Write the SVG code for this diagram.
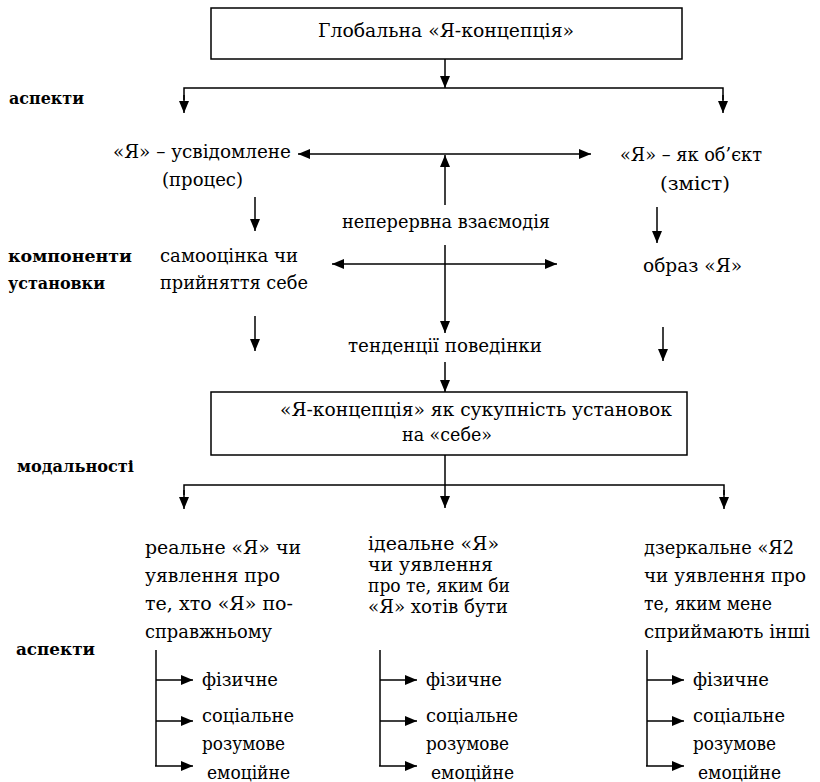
<svg xmlns="http://www.w3.org/2000/svg" width="820" height="782" viewBox="0 0 820 782" font-family="DejaVu Serif, serif">
  <defs>
    <marker id="ah" markerUnits="userSpaceOnUse" markerWidth="12" markerHeight="10" refX="12" refY="5" orient="auto-start-reverse">
      <path d="M0,0 L12,5 L0,10 z" fill="#000"/>
    </marker>
  </defs>
  <style>
    text { font-family: "DejaVu Serif", serif; font-size: 19px; fill: #000; }
    .lbl { font-weight: bold; font-size: 16px; }
    .box { fill: #fff; stroke: #000; stroke-width: 1.5; }
    .ln { fill: none; stroke: #000; stroke-width: 1.5; }
    .ar { fill: none; stroke: #000; stroke-width: 1.5; marker-end: url(#ah); }
    .dar { fill: none; stroke: #000; stroke-width: 1.5; marker-start: url(#ah); marker-end: url(#ah); }
  </style>
  <rect width="820" height="782" fill="#fff"/>

  <!-- level labels on the left -->
  <g id="labels">
    <text class="lbl" x="9" y="104" textLength="75" lengthAdjust="spacingAndGlyphs">аспекти</text>
    <text class="lbl" x="8" y="262" textLength="124" lengthAdjust="spacingAndGlyphs">компоненти</text>
    <text class="lbl" x="8" y="289" textLength="97" lengthAdjust="spacingAndGlyphs">установки</text>
    <text class="lbl" x="17" y="472" textLength="117" lengthAdjust="spacingAndGlyphs">модальності</text>
    <text class="lbl" x="16" y="655" textLength="79" lengthAdjust="spacingAndGlyphs">аспекти</text>
  </g>

  <g id="global">
    <rect class="box" x="211" y="8" width="471" height="51"/>
    <text x="318" y="37" textLength="256" lengthAdjust="spacingAndGlyphs">Глобальна «Я-концепція»</text>
  </g>

  <g id="conscious">
    <text x="113" y="158" textLength="178" lengthAdjust="spacingAndGlyphs">«Я» – усвідомлене</text>
    <text x="162" y="186" textLength="81" lengthAdjust="spacingAndGlyphs">(процес)</text>
  </g>

  <g id="object">
    <text x="620" y="161" textLength="142" lengthAdjust="spacingAndGlyphs">«Я» – як об’єкт</text>
    <text x="660" y="190" textLength="70" lengthAdjust="spacingAndGlyphs">(зміст)</text>
  </g>

  <g id="interaction">
    <text x="342" y="228" textLength="208" lengthAdjust="spacingAndGlyphs">неперервна взаємодія</text>
  </g>

  <g id="selfesteem">
    <text x="160" y="262" textLength="138" lengthAdjust="spacingAndGlyphs">самооцінка чи</text>
    <text x="160" y="289" textLength="148" lengthAdjust="spacingAndGlyphs">прийняття себе</text>
  </g>

  <g id="selfimage">
    <text x="643" y="272" textLength="99" lengthAdjust="spacingAndGlyphs">образ «Я»</text>
  </g>

  <g id="behaviour">
    <text x="348" y="352" textLength="194" lengthAdjust="spacingAndGlyphs">тенденції поведінки</text>
  </g>

  <g id="attitudes">
    <rect class="box" x="211" y="392" width="476" height="63"/>
    <text x="280" y="416" textLength="392" lengthAdjust="spacingAndGlyphs">«Я-концепція» як сукупність установок</text>
    <text x="402" y="441" textLength="90" lengthAdjust="spacingAndGlyphs">на «себе»</text>
  </g>

  <g id="real">
    <text x="145" y="554" textLength="156" lengthAdjust="spacingAndGlyphs">реальне «Я» чи</text>
    <text x="145" y="582" textLength="135" lengthAdjust="spacingAndGlyphs">уявлення про</text>
    <text x="145" y="610" textLength="148" lengthAdjust="spacingAndGlyphs">те, хто «Я» по-</text>
    <text x="145" y="638" textLength="127" lengthAdjust="spacingAndGlyphs">справжньому</text>
  </g>

  <g id="ideal">
    <text x="368" y="550" textLength="131" lengthAdjust="spacingAndGlyphs">ідеальне «Я»</text>
    <text x="368" y="571" textLength="125" lengthAdjust="spacingAndGlyphs">чи уявлення</text>
    <text x="368" y="592" textLength="142" lengthAdjust="spacingAndGlyphs">про те, яким би</text>
    <text x="368" y="613" textLength="140" lengthAdjust="spacingAndGlyphs">«Я» хотів бути</text>
  </g>

  <g id="mirror">
    <text x="644" y="554" textLength="150" lengthAdjust="spacingAndGlyphs">дзеркальне «Я2</text>
    <text x="644" y="582" textLength="162" lengthAdjust="spacingAndGlyphs">чи уявлення про</text>
    <text x="644" y="610" textLength="128" lengthAdjust="spacingAndGlyphs">те, яким мене</text>
    <text x="644" y="638" textLength="166" lengthAdjust="spacingAndGlyphs">сприймають інші</text>
  </g>

  <g id="real-aspects">
    <text x="202" y="686" textLength="76" lengthAdjust="spacingAndGlyphs">фізичне</text>
    <text x="202" y="722" textLength="92" lengthAdjust="spacingAndGlyphs">соціальне</text>
    <text x="202" y="750" textLength="83" lengthAdjust="spacingAndGlyphs">розумове</text>
    <text x="207" y="779" textLength="83" lengthAdjust="spacingAndGlyphs">емоційне</text>
  </g>
  <g id="ideal-aspects">
    <text x="426" y="686" textLength="76" lengthAdjust="spacingAndGlyphs">фізичне</text>
    <text x="426" y="722" textLength="92" lengthAdjust="spacingAndGlyphs">соціальне</text>
    <text x="426" y="750" textLength="83" lengthAdjust="spacingAndGlyphs">розумове</text>
    <text x="431" y="779" textLength="83" lengthAdjust="spacingAndGlyphs">емоційне</text>
  </g>
  <g id="mirror-aspects">
    <text x="693" y="686" textLength="76" lengthAdjust="spacingAndGlyphs">фізичне</text>
    <text x="693" y="722" textLength="92" lengthAdjust="spacingAndGlyphs">соціальне</text>
    <text x="693" y="750" textLength="83" lengthAdjust="spacingAndGlyphs">розумове</text>
    <text x="698" y="779" textLength="83" lengthAdjust="spacingAndGlyphs">емоційне</text>
  </g>

  <g id="connectors">
    <!-- split under the global box -->
    <line class="ar" x1="445" y1="59" x2="445" y2="88"/>
    <polyline class="ln" points="184,100 184,88 723,88 723,100"/>
    <line class="ar" x1="184" y1="95" x2="184" y2="113"/>
    <line class="ar" x1="723" y1="95" x2="723" y2="113"/>
    <!-- interaction cross -->
    <line class="dar" x1="298" y1="154" x2="591" y2="154"/>
    <line class="ar" x1="445" y1="205" x2="445" y2="155"/>
    <line class="ar" x1="445" y1="245" x2="445" y2="333"/>
    <line class="dar" x1="332" y1="264" x2="557" y2="264"/>
    <!-- column arrows -->
    <line class="ar" x1="255" y1="197" x2="255" y2="231"/>
    <line class="ar" x1="657" y1="207" x2="657" y2="243"/>
    <line class="ar" x1="255" y1="316" x2="255" y2="351"/>
    <line class="ar" x1="663" y1="327" x2="663" y2="361"/>
    <line class="ar" x1="445" y1="362" x2="445" y2="392"/>
    <!-- split under the attitudes box -->
    <line class="ln" x1="445" y1="455" x2="445" y2="485"/>
    <polyline class="ln" points="184,495 184,485 724,485 724,495"/>
    <line class="ar" x1="184" y1="490" x2="184" y2="509"/>
    <line class="ar" x1="445" y1="485" x2="445" y2="508"/>
    <line class="ar" x1="724" y1="490" x2="724" y2="509"/>
    <!-- aspect brackets -->
    <line class="ln" x1="156" y1="650" x2="156" y2="766"/>
    <line class="ar" x1="156" y1="680" x2="193" y2="680"/>
    <line class="ar" x1="156" y1="721" x2="193" y2="721"/>
    <line class="ar" x1="155" y1="766" x2="193" y2="766"/>
    <line class="ln" x1="380" y1="650" x2="380" y2="766"/>
    <line class="ar" x1="380" y1="680" x2="417" y2="680"/>
    <line class="ar" x1="380" y1="721" x2="417" y2="721"/>
    <line class="ar" x1="379" y1="766" x2="417" y2="766"/>
    <line class="ln" x1="647" y1="650" x2="647" y2="766"/>
    <line class="ar" x1="647" y1="680" x2="684" y2="680"/>
    <line class="ar" x1="647" y1="721" x2="684" y2="721"/>
    <line class="ar" x1="646" y1="766" x2="684" y2="766"/>
  </g>
</svg>
